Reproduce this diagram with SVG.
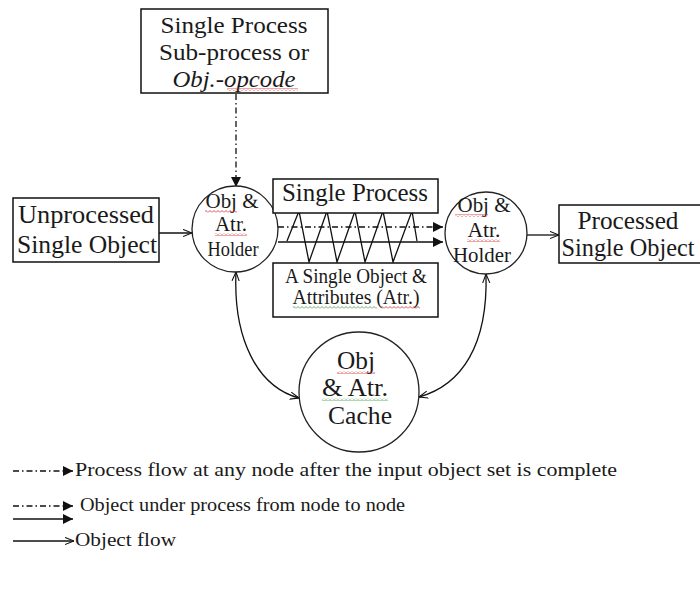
<svg xmlns="http://www.w3.org/2000/svg" width="700" height="589" viewBox="0 0 700 589">
<style>
text{font-family:"Liberation Serif","Times New Roman",serif;fill:#1a1a1a;text-anchor:middle}
.big{font-size:26px}
.top{font-size:24px}
.mid{font-size:20px}
.leg{font-size:19px;text-anchor:start}
.box{fill:#fff;stroke:#111;stroke-width:1.5}
.circ{fill:#fff;stroke:#222;stroke-width:1.3}
.ln{fill:none;stroke:#111;stroke-width:1.3}
.dd{fill:none;stroke:#111;stroke-width:1.3;stroke-dasharray:6 3 1.5 3}
</style>
<defs>
<marker id="fa" viewBox="0 0 10 10" refX="10" refY="5" markerWidth="10" markerHeight="10" markerUnits="userSpaceOnUse" orient="auto"><path d="M0,0 L10,5 L0,10 z" fill="#111"/></marker>
<marker id="oa" viewBox="0 0 10 10" refX="10" refY="5" markerWidth="9" markerHeight="9" markerUnits="userSpaceOnUse" orient="auto-start-reverse"><path d="M0,1 L10,5 L0,9" fill="none" stroke="#111" stroke-width="1.2"/></marker>
<pattern id="wr" width="4" height="3" patternUnits="userSpaceOnUse"><path d="M0,2.5 L2,0.5 L4,2.5" fill="none" stroke="#d02020" stroke-width="0.8"/></pattern>
<pattern id="wg" width="4" height="3" patternUnits="userSpaceOnUse"><path d="M0,2.5 L2,0.5 L4,2.5" fill="none" stroke="#3a9a3a" stroke-width="0.8"/></pattern>
</defs>

<g id="connectors">
<path class="dd" d="M236,94 L236,187" marker-end="url(#fa)"/>
<path class="ln" d="M159,233 L192,233" marker-end="url(#oa)"/>
<path class="dd" d="M278,227 L443,227" marker-end="url(#fa)"/>
<path class="ln" d="M278,242 L443,242" marker-end="url(#fa)"/>
<polyline class="ln" points="287,241 299,211 309,262 327,211 337,262 355,211 365,262 383,211 393,262 412,211 417,241"/>
<path class="ln" d="M527,235 L559,235" marker-end="url(#oa)"/>
<path class="ln" d="M236,272 C233,340 258,387 299,398" marker-start="url(#oa)" marker-end="url(#oa)"/>
<path class="ln" d="M486,274 C488,345 462,385 419,397" marker-start="url(#oa)" marker-end="url(#oa)"/>
</g>

<g id="top-box">
<rect class="box" x="141" y="9" width="187" height="84"/>
<text class="top" x="234" y="33" textLength="147" lengthAdjust="spacingAndGlyphs">Single Process</text>
<text class="top" x="234" y="60" textLength="150" lengthAdjust="spacingAndGlyphs">Sub-process or</text>
<text class="top" x="234" y="87" font-style="italic" textLength="123" lengthAdjust="spacingAndGlyphs">Obj.-opcode</text>
<rect x="227" y="88" width="71" height="3" fill="url(#wr)"/>
</g>

<g id="unprocessed">
<rect class="box" x="13" y="198" width="146" height="64"/>
<text class="big" x="86" y="223" textLength="136" lengthAdjust="spacingAndGlyphs">Unprocessed</text>
<text class="big" x="87" y="253" textLength="140" lengthAdjust="spacingAndGlyphs">Single Object</text>
</g>

<g id="holder-left">
<circle class="circ" cx="235" cy="229" r="43"/>
<text class="mid" x="232" y="208" textLength="53" lengthAdjust="spacingAndGlyphs">Obj &amp;</text>
<text class="mid" x="231" y="231" textLength="32" lengthAdjust="spacingAndGlyphs">Atr.</text>
<text class="mid" x="233" y="256" textLength="51" lengthAdjust="spacingAndGlyphs">Holder</text>
<rect x="205" y="210" width="32" height="3" fill="url(#wr)"/>
<rect x="215" y="233" width="32" height="3" fill="url(#wr)"/>
</g>

<g id="single-process">
<rect class="box" x="273" y="179" width="165" height="34"/>
<text class="big" x="355" y="201" textLength="146" lengthAdjust="spacingAndGlyphs">Single Process</text>
</g>

<g id="single-object">
<rect class="box" x="273" y="263" width="165" height="54"/>
<text class="mid" x="356" y="283" textLength="142" lengthAdjust="spacingAndGlyphs">A Single Object &amp;</text>
<text class="mid" x="356" y="304" textLength="127" lengthAdjust="spacingAndGlyphs">Attributes (Atr.)</text>
<rect x="293" y="306" width="84" height="3" fill="url(#wg)"/>
<rect x="381" y="306" width="39" height="3" fill="url(#wr)"/>
</g>

<g id="holder-right">
<circle class="circ" cx="486" cy="233" r="41"/>
<text class="mid" x="484" y="212" textLength="53" lengthAdjust="spacingAndGlyphs">Obj &amp;</text>
<text class="mid" x="484" y="237" textLength="33" lengthAdjust="spacingAndGlyphs">Atr.</text>
<text class="mid" x="482" y="262" textLength="58" lengthAdjust="spacingAndGlyphs">Holder</text>
<rect x="455" y="214" width="33" height="3" fill="url(#wr)"/>
<rect x="467" y="239" width="33" height="3" fill="url(#wr)"/>
</g>

<g id="processed">
<rect class="box" x="559" y="205" width="150" height="58"/>
<text class="big" x="628" y="229" textLength="101" lengthAdjust="spacingAndGlyphs">Processed</text>
<text class="big" x="628" y="256" textLength="133" lengthAdjust="spacingAndGlyphs">Single Object</text>
</g>

<g id="cache">
<circle class="circ" cx="359" cy="392" r="60"/>
<text class="big" x="356" y="369" textLength="38" lengthAdjust="spacingAndGlyphs">Obj</text>
<text class="big" x="355" y="396" textLength="66" lengthAdjust="spacingAndGlyphs">&amp; Atr.</text>
<text class="big" x="360" y="424" textLength="64" lengthAdjust="spacingAndGlyphs">Cache</text>
<rect x="337" y="371" width="38" height="3" fill="url(#wr)"/>
<rect x="322" y="398" width="66" height="3" fill="url(#wg)"/>
</g>

<g id="legend">
<path class="dd" d="M13,471 L73,471" marker-end="url(#fa)"/>
<text class="leg" x="75" y="476" textLength="542" lengthAdjust="spacingAndGlyphs">Process flow at any node after the input object set is complete</text>
<path class="dd" d="M13,506 L73,506" marker-end="url(#fa)"/>
<path class="ln" d="M13,519 L73,519" marker-end="url(#fa)"/>
<text class="leg" x="80" y="511" textLength="325" lengthAdjust="spacingAndGlyphs">Object under process from node to node</text>
<path class="ln" d="M13,541 L74,541" marker-end="url(#oa)"/>
<text class="leg" x="75" y="546" textLength="101" lengthAdjust="spacingAndGlyphs">Object flow</text>
</g>
</svg>
